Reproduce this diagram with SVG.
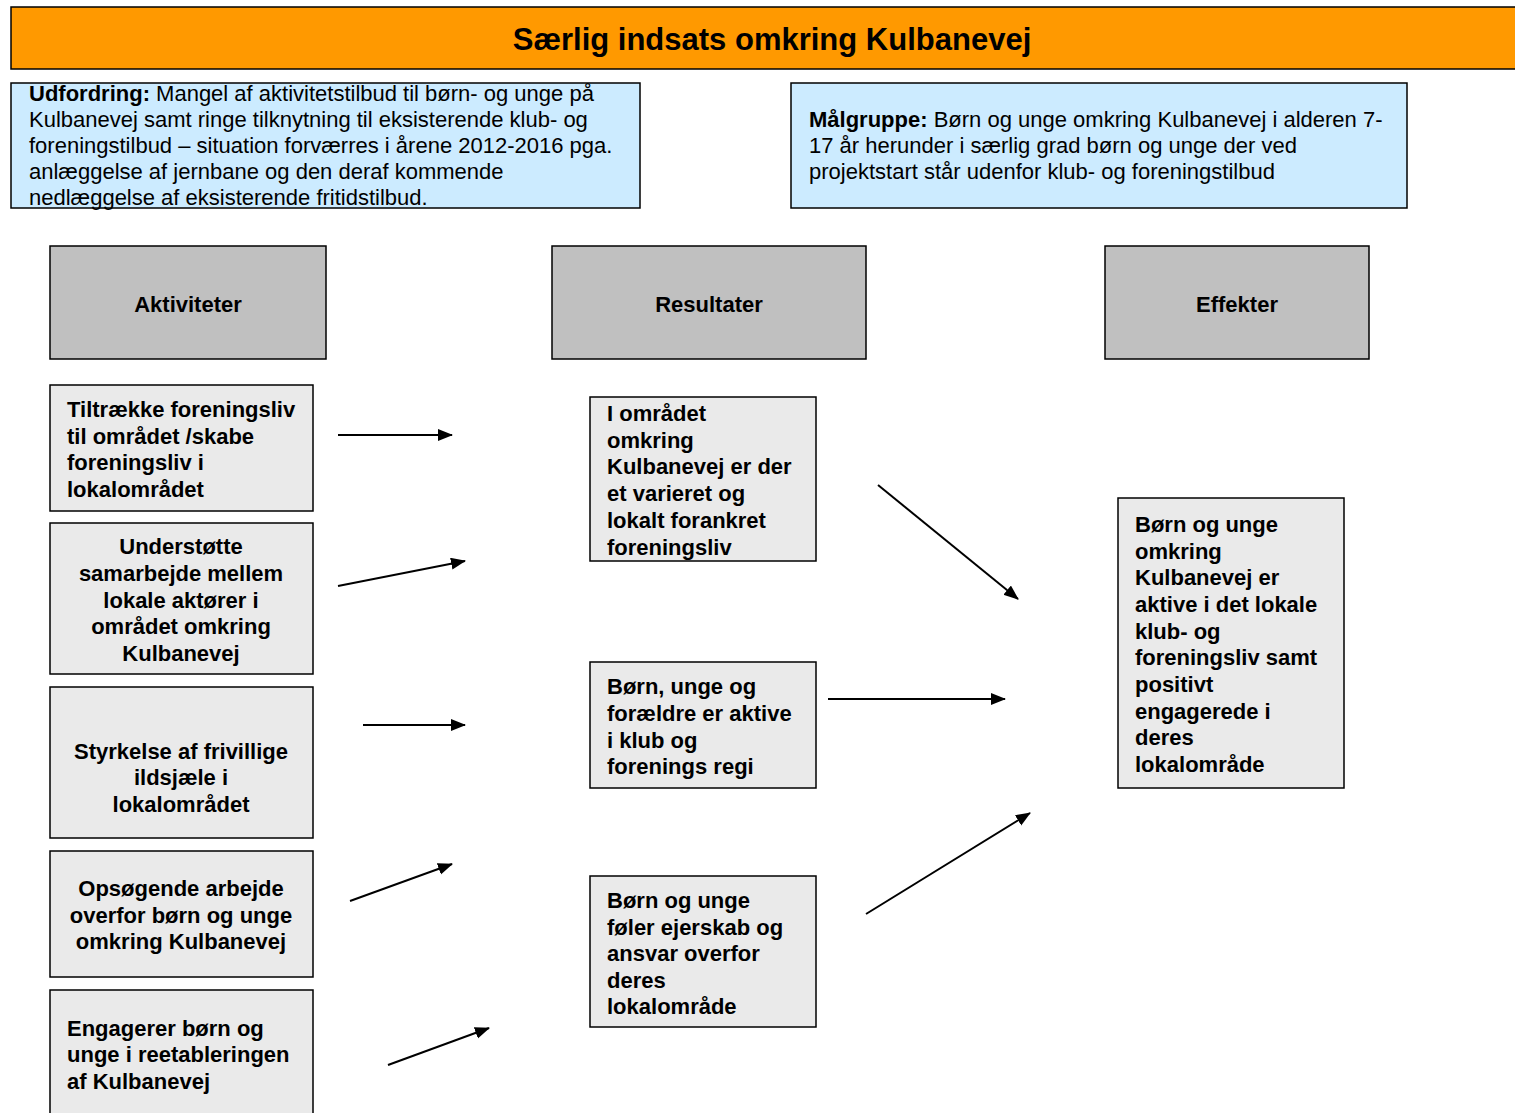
<svg xmlns="http://www.w3.org/2000/svg" width="1515" height="1113" viewBox="0 0 1515 1113">
<style>
text{font-family:"Liberation Sans",Arial,sans-serif;fill:#000}
.b{font-weight:bold;font-size:22px}
.r{font-size:22px}
.c{text-anchor:middle}
.blue{fill:#CCEBFF;stroke:#000;stroke-width:1.5}
.hdr{fill:#C0C0C0;stroke:#000;stroke-width:1.5}
.box{fill:#EAEAEA;stroke:#000;stroke-width:1.5}
.con line{stroke:#000;stroke-width:2;marker-end:url(#ah)}
</style>
<defs>
<marker id="ah" markerUnits="userSpaceOnUse" markerWidth="16" markerHeight="13" refX="14" refY="6" orient="auto">
<path d="M0,0 L15,6 L0,12 z" fill="#000"/>
</marker>
</defs>
<rect width="1515" height="1113" fill="#fff"/>
<g id="title">
<rect x="11" y="7" width="1510" height="62" fill="#FF9900" stroke="#000" stroke-width="1.5"/>
<text x="772" y="50" class="c" style="font-weight:bold;font-size:31px">Særlig indsats omkring Kulbanevej</text>
</g>
<g id="udfordring">
<rect x="11" y="83" width="629" height="125" class="blue"/>
<text class="r" x="29"><tspan x="29" y="101"><tspan font-weight="bold">Udfordring:</tspan> Mangel af aktivitetstilbud til børn- og unge på</tspan><tspan x="29" y="127">Kulbanevej samt ringe tilknytning til eksisterende klub- og</tspan><tspan x="29" y="153">foreningstilbud – situation forværres i årene 2012-2016 pga.</tspan><tspan x="29" y="179">anlæggelse af jernbane og den deraf kommende</tspan><tspan x="29" y="205">nedlæggelse af eksisterende fritidstilbud.</tspan></text>
</g>
<g id="malgruppe">
<rect x="791" y="83" width="616" height="125" class="blue"/>
<text class="r"><tspan x="809" y="127"><tspan font-weight="bold">Målgruppe:</tspan> Børn og unge omkring Kulbanevej i alderen 7-</tspan><tspan x="809" y="153">17 år herunder i særlig grad børn og unge der ved</tspan><tspan x="809" y="179">projektstart står udenfor klub- og foreningstilbud</tspan></text>
</g>
<g id="aktiviteter">
<rect x="50" y="246" width="276" height="113" class="hdr"/>
<text x="188" y="312" class="b c">Aktiviteter</text>
</g>
<g id="resultater">
<rect x="552" y="246" width="314" height="113" class="hdr"/>
<text x="709" y="312" class="b c">Resultater</text>
</g>
<g id="effekter">
<rect x="1105" y="246" width="264" height="113" class="hdr"/>
<text x="1237" y="312" class="b c">Effekter</text>
</g>
<g id="a1">
<rect x="50" y="385" width="263" height="126" class="box"/>
<text class="b"><tspan x="67" y="417">Tiltrække foreningsliv</tspan><tspan x="67" y="444">til området /skabe</tspan><tspan x="67" y="470">foreningsliv i</tspan><tspan x="67" y="497">lokalområdet</tspan></text>
</g>
<g id="a2">
<rect x="50" y="523" width="263" height="151" class="box"/>
<text class="b c"><tspan x="181" y="554">Understøtte</tspan><tspan x="181" y="581">samarbejde mellem</tspan><tspan x="181" y="608">lokale aktører i</tspan><tspan x="181" y="634">området omkring</tspan><tspan x="181" y="661">Kulbanevej</tspan></text>
</g>
<g id="a3">
<rect x="50" y="687" width="263" height="151" class="box"/>
<text class="b c"><tspan x="181" y="759">Styrkelse af frivillige</tspan><tspan x="181" y="785">ildsjæle i</tspan><tspan x="181" y="812">lokalområdet</tspan></text>
</g>
<g id="a4">
<rect x="50" y="851" width="263" height="126" class="box"/>
<text class="b c"><tspan x="181" y="896">Opsøgende arbejde</tspan><tspan x="181" y="923">overfor børn og unge</tspan><tspan x="181" y="949">omkring Kulbanevej</tspan></text>
</g>
<g id="a5">
<rect x="50" y="990" width="263" height="140" class="box"/>
<text class="b"><tspan x="67" y="1036">Engagerer børn og</tspan><tspan x="67" y="1062">unge i reetableringen</tspan><tspan x="67" y="1089">af Kulbanevej</tspan></text>
</g>
<g id="r1">
<rect x="590" y="397" width="226" height="164" class="box"/>
<text class="b"><tspan x="607" y="421">I området</tspan><tspan x="607" y="448">omkring</tspan><tspan x="607" y="474">Kulbanevej er der</tspan><tspan x="607" y="501">et varieret og</tspan><tspan x="607" y="528">lokalt forankret</tspan><tspan x="607" y="555">foreningsliv</tspan></text>
</g>
<g id="r2">
<rect x="590" y="662" width="226" height="126" class="box"/>
<text class="b"><tspan x="607" y="694">Børn, unge og</tspan><tspan x="607" y="721">forældre er aktive</tspan><tspan x="607" y="748">i klub og</tspan><tspan x="607" y="774">forenings regi</tspan></text>
</g>
<g id="r3">
<rect x="590" y="876" width="226" height="151" class="box"/>
<text class="b"><tspan x="607" y="908">Børn og unge</tspan><tspan x="607" y="935">føler ejerskab og</tspan><tspan x="607" y="961">ansvar overfor</tspan><tspan x="607" y="988">deres</tspan><tspan x="607" y="1014">lokalområde</tspan></text>
</g>
<g id="e1">
<rect x="1118" y="498" width="226" height="290" class="box"/>
<text class="b"><tspan x="1135" y="532">Børn og unge</tspan><tspan x="1135" y="559">omkring</tspan><tspan x="1135" y="585">Kulbanevej er</tspan><tspan x="1135" y="612">aktive i det lokale</tspan><tspan x="1135" y="639">klub- og</tspan><tspan x="1135" y="665">foreningsliv samt</tspan><tspan x="1135" y="692">positivt</tspan><tspan x="1135" y="719">engagerede i</tspan><tspan x="1135" y="745">deres</tspan><tspan x="1135" y="772">lokalområde</tspan></text>
</g>
<g id="connectors" class="con">
<line x1="338" y1="435" x2="452" y2="435"/>
<line x1="338" y1="586" x2="465" y2="561"/>
<line x1="363" y1="725" x2="465" y2="725"/>
<line x1="350" y1="901" x2="452" y2="864"/>
<line x1="388" y1="1065" x2="489" y2="1028"/>
<line x1="878" y1="485" x2="1018" y2="599"/>
<line x1="828" y1="699" x2="1005" y2="699"/>
<line x1="866" y1="914" x2="1030" y2="813"/>
</g>
</svg>
